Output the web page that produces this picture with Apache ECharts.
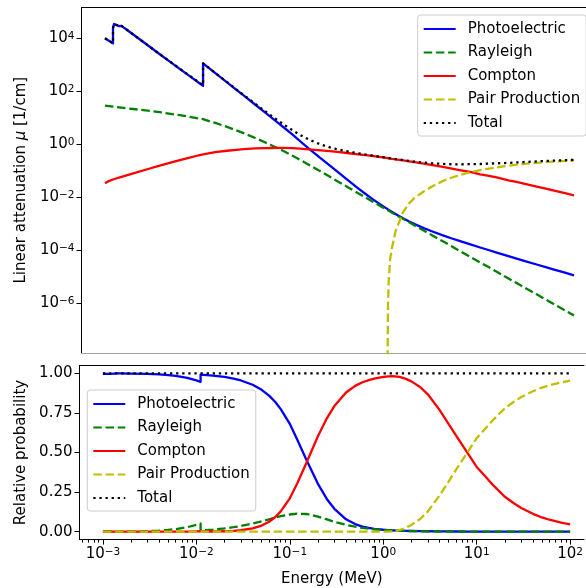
<!DOCTYPE html>
<html>
<head>
<meta charset="utf-8">
<script src="https://cdn.jsdelivr.net/npm/echarts@6/dist/echarts.min.js"></script>
<style>
  html, body { margin: 0; padding: 0; background: #fff; }
  #chart { width: 586px; height: 588px; }
</style>
</head>
<body>
<div id="chart"></div>
<script>
// Photon interaction in germanium: linear attenuation by process (1/cm) vs photon energy (MeV)
const energyMeV = [
  1.0e-3, 1.1e-3, 1.217e-3, 1.2171e-3, 1.248e-3, 1.2481e-3, 1.414e-3, 1.4141e-3, 1.5e-3,
  2e-3, 3e-3, 4e-3, 5e-3, 6e-3, 8e-3, 1e-2, 1.1103e-2, 1.1104e-2, 1.5e-2,
  2e-2, 2.5e-2, 3e-2, 4e-2, 5e-2, 6e-2, 7e-2, 8e-2, 0.1, 0.12,
  0.15, 0.2, 0.25, 0.3, 0.4, 0.5, 0.6, 0.7, 0.8, 1.0,
  1.022, 1.03, 1.04, 1.06, 1.1, 1.15, 1.25, 1.5, 1.75, 2,
  2.5, 3, 4, 5, 6, 7, 8, 10, 12, 15,
  20, 25, 30, 40, 50, 60, 80, 100
];

const photoelectric = [
  9.77e3, 7.94e3, 6.31e3, 2.40e4, 2.24e4, 3.39e4, 2.82e4, 3.31e4, 2.88e4,
  1.35e4, 4.68e3, 2.19e3, 1.23e3, 759, 363, 204, 158, 1.10e3, 472,
  211, 113, 67.8, 30.3, 16.2, 9.70, 6.27, 4.28, 2.25, 1.29,
  0.661, 0.288, 0.153, 0.0912, 0.0398, 0.0213, 0.0130, 8.71e-3, 6.24e-3, 3.72e-3,
  3.54e-3, 3.48e-3, 3.41e-3, 3.27e-3, 3.02e-3, 2.74e-3, 2.28e-3, 1.58e-3, 1.19e-3, 9.48e-4,
  6.71e-4, 5.19e-4, 3.57e-4, 2.72e-4, 2.20e-4, 1.85e-4, 1.59e-4, 1.24e-4, 1.02e-4, 8.00e-5,
  5.87e-5, 4.63e-5, 3.83e-5, 2.84e-5, 2.25e-5, 1.87e-5, 1.39e-5, 1.11e-5
];

const rayleigh = [
  28.2, 26.9, 25.7, 25.7, 25.1, 25.1, 24.0, 24.0, 23.4,
  20.9, 17.8, 15.5, 13.8, 12.6, 10.6, 9.23, 8.61, 8.61, 6.22,
  4.41, 3.30, 2.56, 1.68, 1.19, 0.881, 0.681, 0.541, 0.358, 0.251,
  0.162, 0.0910, 0.0575, 0.0396, 0.0220, 0.0139, 9.57e-3, 6.98e-3, 5.31e-3, 3.36e-3,
  3.24e-3, 3.19e-3, 3.13e-3, 3.01e-3, 2.80e-3, 2.56e-3, 2.17e-3, 1.51e-3, 1.11e-3, 8.47e-4,
  5.42e-4, 3.77e-4, 2.12e-4, 1.36e-4, 9.42e-5, 6.92e-5, 5.30e-5, 3.39e-5, 2.36e-5, 1.51e-5,
  8.47e-6, 5.42e-6, 3.77e-6, 2.12e-6, 1.36e-6, 9.42e-7, 5.30e-7, 3.39e-7
];

const compton = [
  0.0331, 0.0398, 0.0457, 0.0457, 0.0473, 0.0473, 0.0543, 0.0543, 0.0575,
  0.0776, 0.119, 0.160, 0.200, 0.237, 0.309, 0.376, 0.407, 0.407, 0.490,
  0.556, 0.605, 0.641, 0.681, 0.698, 0.706, 0.710, 0.708, 0.695, 0.673,
  0.627, 0.574, 0.535, 0.501, 0.448, 0.408, 0.378, 0.353, 0.332, 0.298,
  0.296, 0.294, 0.292, 0.288, 0.281, 0.274, 0.265, 0.242, 0.223, 0.207,
  0.181, 0.163, 0.136, 0.117, 0.104, 0.0942, 0.0861, 0.0720, 0.0646, 0.0549,
  0.0427, 0.0363, 0.0313, 0.0248, 0.0206, 0.0178, 0.0140, 0.0116
];

// zero below the 1.022 MeV threshold
const pairProduction = [
  0, 0, 0, 0, 0, 0, 0, 0, 0,
  0, 0, 0, 0, 0, 0, 0, 0, 0, 0,
  0, 0, 0, 0, 0, 0, 0, 0, 0, 0,
  0, 0, 0, 0, 0, 0, 0, 0, 0, 0,
  0, 7.9e-9, 7.9e-7, 7.9e-6, 5.0e-5, 1.26e-4, 5.0e-4, 2.63e-3, 5.75e-3, 9.33e-3,
  0.0162, 0.0240, 0.0403, 0.0543, 0.0668, 0.0776, 0.0871, 0.104, 0.116, 0.132,
  0.151, 0.166, 0.178, 0.195, 0.209, 0.218, 0.230, 0.240
];

const seriesNames = ['Photoelectric', 'Rayleigh', 'Compton', 'Pair Production', 'Total'];
const xMajorTicks = [1e-3, 1e-2, 1e-1, 1, 10, 100];
const xMinorTicks = [6e-4, 7e-4, 8e-4, 9e-4];
[1e-3, 1e-2, 1e-1, 1, 10].forEach(d => { for (let k = 2; k <= 9; k++) xMinorTicks.push(k * d); });
const yTopTicks = [1e-6, 1e-4, 1e-2, 1, 1e2, 1e4];
const yBottomTicks = [0, 0.25, 0.5, 0.75, 1];

const total = energyMeV.map((_, i) => photoelectric[i] + rayleigh[i] + compton[i] + pairProduction[i]);

const FONT = "'DejaVu Sans', sans-serif";
const COLORS = ['#0000ff', '#008000', '#ff0000', '#bfbf00', '#000000'];
const LW = 2.3;
const DASH = [8.5, 3.7];
const DOT = [2.3, 3.8];
const lineTypes = ['solid', DASH, 'solid', DASH, DOT];

function powLabel(v) {
  const e = Math.round(Math.log10(v));
  return '{b|10}{s|' + (e < 0 ? '\u2212' + (-e) : String(e)) + '}';
}
const powRich = {
  b: { fontSize: 15, fontFamily: FONT, color: '#000', lineHeight: 15, padding: [3, 0, 0, 0], verticalAlign: 'bottom' },
  s: { fontSize: 10.5, fontFamily: FONT, color: '#000', lineHeight: 11, verticalAlign: 'top' }
};

// log axes run past the right edge of the canvas; the visible end is cut at the canvas edge
const PX_PER_DECADE = 93.8;
const X_MIN = Math.pow(10, -3 - 23.5 / PX_PER_DECADE);
const X_MAX_TOP = Math.pow(10, -3 + (586 - 81.5 - 23.5) / PX_PER_DECADE);
const X_MAX_BOTTOM = Math.pow(10, -3 + (586 - 79.5 - 23.5) / PX_PER_DECADE);

function topPoints(arr) {
  return energyMeV.map((e, i) => [e, arr[i] > 0 ? arr[i] : '-']);
}
function fracPoints(arr) {
  return energyMeV.map((e, i) => [e, arr[i] / total[i]]);
}

const componentArrays = [photoelectric, rayleigh, compton, pairProduction, total];

const series = [];
componentArrays.forEach((arr, k) => {
  series.push({
    name: seriesNames[k], type: 'line', xAxisIndex: 0, yAxisIndex: 0,
    data: topPoints(arr), symbol: 'none', clip: true,
    lineStyle: { color: COLORS[k], width: LW, type: lineTypes[k], cap: 'butt', join: 'round' },
    itemStyle: { color: COLORS[k] }
  });
});
componentArrays.forEach((arr, k) => {
  series.push({
    name: seriesNames[k], type: 'line', xAxisIndex: 2, yAxisIndex: 1,
    data: fracPoints(arr), symbol: 'none', clip: true,
    lineStyle: { color: COLORS[k], width: LW, type: lineTypes[k], cap: 'butt', join: 'round' },
    itemStyle: { color: COLORS[k] }
  });
});

const legendBase = {
  orient: 'vertical', data: seriesNames, selectedMode: false,
  itemWidth: 32, itemHeight: 14, itemGap: 5.5,
  padding: [5, 6, 4, 5],
  borderColor: '#cccccc', borderWidth: 1, borderRadius: 3,
  backgroundColor: 'rgba(255,255,255,0.8)',
  itemStyle: { opacity: 0 },
  textStyle: { fontSize: 15, fontFamily: FONT, color: '#000', lineHeight: 18, padding: [0, 0, 0, 7] }
};

const spineOnly = (gridIndex, position, max, color) => ({
  type: 'log', gridIndex, position, min: X_MIN, max,
  axisLine: { onZero: false, lineStyle: { color, width: 1 } },
  axisTick: { show: false }, axisLabel: { show: false }, splitLine: { show: false }
});

const option = {
  animation: false,
  backgroundColor: '#fff',
  textStyle: { fontFamily: FONT },
  grid: [
    { left: 81.5, top: 7.5, right: 0, height: 345.5 },
    { left: 79.5, top: 365.4, right: 0, height: 174.2 }
  ],
  legend: [
    Object.assign({}, legendBase, { left: 417.7, top: 15 }),
    Object.assign({}, legendBase, { left: 87.3, top: 390 })
  ],
  xAxis: [
    spineOnly(0, 'bottom', X_MAX_TOP, '#a0a0a0'),
    spineOnly(0, 'top', X_MAX_TOP, '#000'),
    { type: 'log', gridIndex: 1, position: 'bottom', min: X_MIN, max: X_MAX_BOTTOM,
      name: 'Energy (MeV)', nameLocation: 'middle', nameGap: 32,
      nameTextStyle: { fontSize: 15, fontFamily: FONT, color: '#000' },
      axisLine: { onZero: false, lineStyle: { color: '#000', width: 1 } },
      axisTick: { customValues: xMajorTicks, length: 5, lineStyle: { color: '#000', width: 1 } },
      axisLabel: { customValues: xMajorTicks, margin: 6.7, formatter: powLabel, rich: powRich },
      splitLine: { show: false } },
    { type: 'log', gridIndex: 1, position: 'bottom', min: X_MIN, max: X_MAX_BOTTOM,
      axisLine: { show: false, onZero: false },
      axisTick: { customValues: xMinorTicks, length: 3, lineStyle: { color: '#000', width: 1 } },
      axisLabel: { show: false }, splitLine: { show: false } },
    spineOnly(1, 'top', X_MAX_BOTTOM, '#000')
  ],
  yAxis: [
    { type: 'log', gridIndex: 0, min: Math.pow(10, -7.887), max: Math.pow(10, 5.151),
      name: 'Linear attenuation {i|\u03bc} [1/cm]', nameLocation: 'middle', nameGap: 52.5,
      nameTextStyle: { fontSize: 15, fontFamily: FONT, color: '#000',
        rich: { i: { fontSize: 15, fontFamily: FONT, fontStyle: 'italic', color: '#000' } } },
      axisLine: { show: true, onZero: false, lineStyle: { color: '#000', width: 1 } },
      axisTick: { show: true, customValues: yTopTicks, length: 5, lineStyle: { color: '#000', width: 1 } },
      axisLabel: { customValues: yTopTicks, margin: 7, formatter: powLabel, rich: powRich },
      splitLine: { show: false } },
    { type: 'value', gridIndex: 1, min: -0.05, max: 1.05,
      name: 'Relative probability', nameLocation: 'middle', nameGap: 50.5,
      nameTextStyle: { fontSize: 15, fontFamily: FONT, color: '#000' },
      axisLine: { show: true, onZero: false, lineStyle: { color: '#000', width: 1 } },
      axisTick: { show: true, customValues: yBottomTicks, length: 5, lineStyle: { color: '#000', width: 1 } },
      axisLabel: { customValues: yBottomTicks, margin: 7, fontSize: 15, fontFamily: FONT, color: '#000',
        formatter: v => v.toFixed(2) },
      splitLine: { show: false } }
  ],
  series: series
};

const chart = echarts.init(document.getElementById('chart'), null, { renderer: 'canvas' });
chart.setOption(option);
</script>
</body>
</html>
